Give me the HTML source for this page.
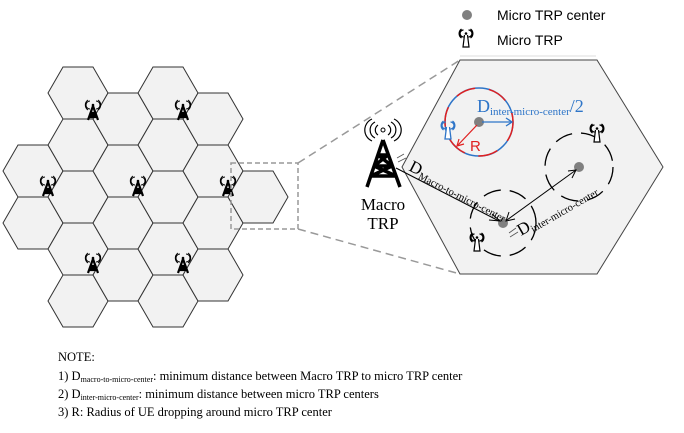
<!DOCTYPE html>
<html><head><meta charset="utf-8"><style>
html,body{margin:0;padding:0;background:#fff;}
svg{display:block;}
.n{font-family:"Liberation Serif",serif;font-size:12.5px;fill:#000;}
</style></head><body>
<svg width="684" height="433" viewBox="0 0 684 433" xmlns="http://www.w3.org/2000/svg">
<defs>
<g id="tw">
 <path d="M0,-6 L-5,8 M0,-6 L5,8 M-3,1 L3,1 M-4,5 L4,5 M-3,1 L4,5 M3,1 L-4,5" stroke="#000" stroke-width="2.2" fill="none"/>
 <path d="M-3,-11 A4,4 0 0 0 -3,-3 M3,-11 A4,4 0 0 1 3,-3 M-5,-12 A6,6 0 0 0 -5,-2 M5,-12 A6,6 0 0 1 5,-2" stroke="#000" stroke-width="1" fill="none"/>
 <circle cx="0" cy="-7" r="1.3" fill="#000"/>
</g>
<g id="mt">
 <path d="M-1.5,-3 L-3,9 L3,9 L1.5,-3" stroke="#000" stroke-width="1.2" fill="#fff"/>
 <path d="M-2.5,-8 A3.5,3.5 0 0 0 -2.5,-1 M2.5,-8 A3.5,3.5 0 0 1 2.5,-1 M-4.5,-9 A5.5,5.5 0 0 0 -4.5,0 M4.5,-9 A5.5,5.5 0 0 1 4.5,0" stroke="#000" stroke-width="1.3" fill="none"/>
 <circle cx="0" cy="-4.5" r="1.3" fill="#000"/>
</g>
</defs>
<g fill="#f2f2f2" stroke="#333" stroke-width="1">
<polygon points="3,171 18,145 48,145 63,171 48,197 18,197"/>
<polygon points="3,223 18,197 48,197 63,223 48,249 18,249"/>
<polygon points="48,93 63,67 93,67 108,93 93,119 63,119"/>
<polygon points="48,145 63,119 93,119 108,145 93,171 63,171"/>
<polygon points="48,197 63,171 93,171 108,197 93,223 63,223"/>
<polygon points="48,249 63,223 93,223 108,249 93,275 63,275"/>
<polygon points="48,301 63,275 93,275 108,301 93,327 63,327"/>
<polygon points="93,119 108,93 138,93 153,119 138,145 108,145"/>
<polygon points="93,171 108,145 138,145 153,171 138,197 108,197"/>
<polygon points="93,223 108,197 138,197 153,223 138,249 108,249"/>
<polygon points="93,275 108,249 138,249 153,275 138,301 108,301"/>
<polygon points="138,93 153,67 183,67 198,93 183,119 153,119"/>
<polygon points="138,145 153,119 183,119 198,145 183,171 153,171"/>
<polygon points="138,197 153,171 183,171 198,197 183,223 153,223"/>
<polygon points="138,249 153,223 183,223 198,249 183,275 153,275"/>
<polygon points="138,301 153,275 183,275 198,301 183,327 153,327"/>
<polygon points="183,119 198,93 228,93 243,119 228,145 198,145"/>
<polygon points="183,171 198,145 228,145 243,171 228,197 198,197"/>
<polygon points="183,223 198,197 228,197 243,223 228,249 198,249"/>
<polygon points="183,275 198,249 228,249 243,275 228,301 198,301"/>
<polygon points="228,197 243,171 273,171 288,197 273,223 243,223"/>
</g>
<use href="#tw" x="93" y="112"/><use href="#tw" x="183" y="112"/>
<use href="#tw" x="48" y="188"/><use href="#tw" x="138" y="188"/><use href="#tw" x="228" y="188"/>
<use href="#tw" x="93" y="265"/><use href="#tw" x="183" y="265"/>
<rect x="231" y="163" width="67" height="66" fill="none" stroke="#999" stroke-width="1.5" stroke-dasharray="5,3"/>
<path d="M298,163 L460,60 M298,229 L460,274" stroke="#999" stroke-width="1.5" stroke-dasharray="8,5"/>
<polygon points="402,167 460,60 597,60 663,167 597,274 460,274" fill="#f2f2f2" stroke="#444" stroke-width="1"/>
<g stroke="#000" stroke-width="3.5" fill="none">
 <path d="M383,140 L367,187 M383,140 L400,187 M378,155 L388,155 M374,166 L392,166 M371,176 L396,176 M378,155 L392,166 M388,155 L374,166 M374,166 L396,176 M392,166 L371,176"/>
</g>
<g stroke="#000" stroke-width="1.2" fill="none">
 <path d="M378,125 A6,6 0 0 0 378,135 M388,125 A6,6 0 0 1 388,135 M375,122 A9,9 0 0 0 375,138 M391,122 A9,9 0 0 1 391,138 M372,119 A12,12 0 0 0 372,141 M394,119 A12,12 0 0 1 394,141"/>
</g>
<circle cx="383" cy="130" r="2" fill="none" stroke="#000"/>
<text x="383" y="210" text-anchor="middle" font-family="Liberation Serif,serif" font-size="17">Macro</text>
<text x="383" y="229" text-anchor="middle" font-family="Liberation Serif,serif" font-size="17">TRP</text>
<circle cx="479" cy="122" r="34" fill="none" stroke="#2e75c8" stroke-width="1.5"/>
<circle cx="479" cy="122" r="34" fill="none" stroke="#e02020" stroke-width="1.5" stroke-dasharray="20,14"/>
<circle cx="479" cy="122" r="5" fill="#808080"/>
<path d="M482,122 L511,122" stroke="#2e75c8" stroke-width="1.3"/>
<path d="M506,118 L512,122 L506,126" stroke="#2e75c8" stroke-width="1.3" fill="none"/>
<path d="M477,125 L458,145" stroke="#e02020" stroke-width="1.2"/>
<path d="M459,139 L457,146 L464,144" stroke="#e02020" stroke-width="1.2" fill="none"/>
<text x="470" y="151" font-family="Liberation Sans,sans-serif" font-size="15" fill="#e02020">R</text>
<text x="477" y="112" font-family="Liberation Serif,serif" font-size="18" fill="#2e75c8">D<tspan font-size="11" dy="3">inter-micro-center</tspan><tspan dy="-3" font-size="18">/2</tspan></text>
<g transform="translate(448,130)" stroke="#2e75c8" stroke-width="1.3" fill="#fff">
 <path d="M-1.5,-3 L-3,9 L3,9 L1.5,-3"/>
 <path d="M-2.5,-8 A3.5,3.5 0 0 0 -2.5,-1 M2.5,-8 A3.5,3.5 0 0 1 2.5,-1 M-4.5,-9 A5.5,5.5 0 0 0 -4.5,0 M4.5,-9 A5.5,5.5 0 0 1 4.5,0" fill="none"/>
</g>
<circle cx="579" cy="167" r="34" fill="none" stroke="#000" stroke-width="1.3" stroke-dasharray="18,9"/>
<circle cx="503" cy="223" r="33" fill="none" stroke="#000" stroke-width="1.3" stroke-dasharray="18,9"/>
<circle cx="579" cy="167" r="5" fill="#808080"/>
<circle cx="503" cy="223" r="5" fill="#808080"/>
<use href="#mt" x="597" y="133"/>
<use href="#mt" x="477" y="242"/>
<path d="M396,168 L499,221" stroke="#000" stroke-width="1"/>
<path d="M492,214 L500,221 L489,220" stroke="#000" fill="none"/>
<path d="M507,220 L576,170" stroke="#000" stroke-width="1"/>
<path d="M509,212 L506,221 L515,219 M568,171 L576,170 L572,178" stroke="#000" fill="none"/>
<path d="M397,158 L404,154 M398,162 L406,158 M509,233 L516,228 M510,237 L518,232" stroke="#555" stroke-width="0.8"/>
<text transform="translate(408,170) rotate(27)" font-family="Liberation Serif,serif" font-size="17">D<tspan font-size="10.5" dy="3">Macro-to-micro-center</tspan></text>
<text transform="translate(521,236) rotate(-30)" font-family="Liberation Serif,serif" font-size="17">D<tspan font-size="10.5" dy="3">inter-micro-center</tspan></text>
<circle cx="467" cy="15" r="5" fill="#808080"/>
<text x="497" y="20" font-family="Liberation Sans,sans-serif" font-size="14">Micro TRP center</text>
<use href="#mt" x="466" y="38"/>
<text x="497" y="45" font-family="Liberation Sans,sans-serif" font-size="14">Micro TRP</text>
<line x1="460" y1="56" x2="596" y2="56" stroke="#ddd"/>
<text class="n" x="58" y="361">NOTE:</text>
<text class="n" x="58" y="380">1) D<tspan font-size="8" dy="2">macro-to-micro-center</tspan><tspan dy="-2">: minimum distance between Macro TRP to micro TRP center</tspan></text>
<text class="n" x="58" y="398">2) D<tspan font-size="8" dy="2">inter-micro-center</tspan><tspan dy="-2">: minimum distance between micro TRP centers</tspan></text>
<text class="n" x="58" y="416">3) R: Radius of UE dropping around micro TRP center</text>
</svg>
</body></html>
